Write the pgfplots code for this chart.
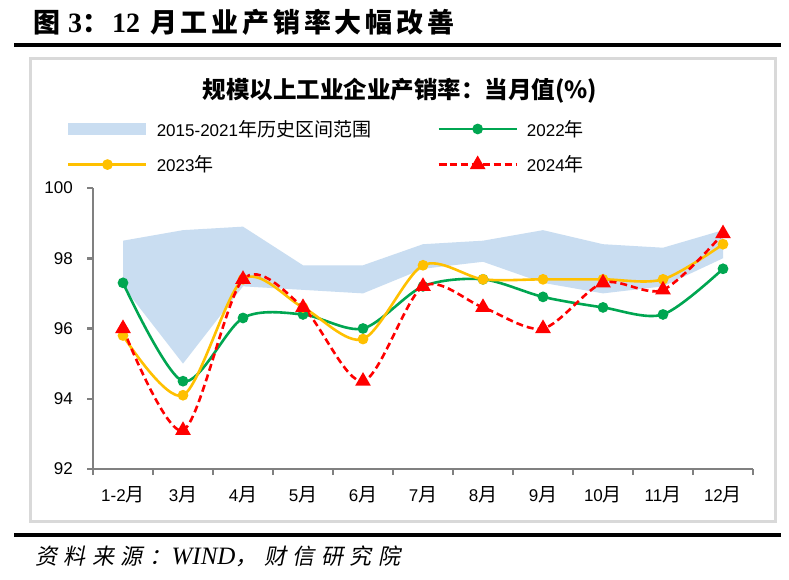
\documentclass[border=0pt]{standalone}
\usepackage{fontspec}
\usepackage{pgfplots}
\usepackage{pgfplotstable}
\pgfplotsset{compat=1.18}
\setmainfont{Liberation Sans}
\newfontfamily\cjk{Noto Sans CJK SC}[Scale=1.12]
\newfontfamily\titlecjkf{Noto Sans CJK SC}[LetterSpace=14]
\newfontfamily\srcf{Noto Sans CJK SC}[LetterSpace=30,FakeSlant=0.2]
\newfontfamily\serif{Liberation Serif}
\newcommand\zh[1]{{\cjk #1}}

\definecolor{band}{HTML}{C9DDF1}
\definecolor{g22}{HTML}{00A651}
\definecolor{y23}{HTML}{FFC000}
\definecolor{r24}{HTML}{FF0000}
\definecolor{axgray}{HTML}{808080}
\definecolor{boxgray}{HTML}{D9D9D9}

\pgfplotstableread{
x  g22  y23  r24
0  97.3 95.8 96.0
1  94.5 94.1 93.1
2  96.3 97.4 97.4
3  96.4 96.6 96.6
4  96.0 95.7 94.5
5  97.2 97.8 97.2
6  97.4 97.4 96.6
7  96.9 97.4 96.0
8  96.6 97.4 97.3
9  96.4 97.4 97.1
10 97.7 98.4 98.7
}\lines

\begin{document}
\begin{tikzpicture}[x=1pt,y=1pt]
\path[use as bounding box] (0,0) rectangle (789,579);
% page title
\node[anchor=base west,inner sep=0pt] at (33,546)
 {\fontsize{27}{27}\selectfont\titlecjkf\bfseries 图\hspace{8pt}{\serif\bfseries\fontsize{28}{28}\selectfont 3}：\hspace{3pt}{\serif\bfseries\fontsize{28}{28}\selectfont 12}\hspace{10pt}月工业产销率大幅改善};
\draw[black,line width=4pt] (14,534) -- (781,534);
% frame
\draw[boxgray,line width=3pt,fill=white] (30,520) rectangle (775,58);
% chart title
\node[inner sep=0pt] at (400,488)
 {\fontsize{21}{21}\selectfont\cjk\bfseries 规模以上工业企业产销率：当月值(\%)};
\begin{axis}[
  at={(93pt,110pt)}, anchor=south west,
  scale only axis, width=660pt, height=281pt,
  xmin=-0.5, xmax=10.5, ymin=92, ymax=100,
  axis x line*=bottom, axis y line*=left,
  axis line style={axgray,line width=2.5pt},
  xtick={-0.5,0.5,...,10.5}, xticklabels={},
  extra x ticks={0,1,...,10},
  extra x tick labels={{1-2\zh{月}},{3\zh{月}},{4\zh{月}},{5\zh{月}},{6\zh{月}},{7\zh{月}},{8\zh{月}},{9\zh{月}},{10\zh{月}},{11\zh{月}},{12\zh{月}}},
  extra x tick style={major tick length=0pt},
  ytick={92,94,...,100},
  tick align=outside,
  major tick length=6pt,
  every tick/.style={axgray,line width=2.5pt},
  /pgf/number format/assume math mode=true,
  tick label style={font=\fontsize{17}{17}\selectfont, inner sep=0pt},
  yticklabel style={xshift=-14pt},
  xticklabel style={yshift=-17pt},
  legend columns=2, legend cell align=left,
  legend style={
    at={(axis description cs:-0.0394,1.242)}, anchor=north west,
    draw=none, fill=none, inner sep=0pt,
    font=\fontsize{17}{17}\selectfont,
    row sep=18pt,
    nodes={inner sep=0pt},
    /tikz/every odd column/.append style={column sep=9pt},
    /tikz/every even column/.append style={column sep=66pt},
  },
  legend image code/.code={\draw[#1,mark repeat=2,mark phase=2] plot coordinates {(0pt,0pt)(39pt,0pt)(78pt,0pt)};},
  clip=false,
]
\addplot[fill=band, draw=none,
  legend image code/.code={\fill[band] (0pt,-6pt) rectangle (78pt,6pt);}]
 coordinates {(0,98.5)(1,98.8)(2,98.9)(3,97.8)(4,97.8)(5,98.4)(6,98.5)(7,98.8)(8,98.4)(9,98.3)(10,98.8)
              (10,98.0)(9,97.2)(8,97.0)(7,97.3)(6,97.9)(5,97.7)(4,97.0)(3,97.1)(2,97.2)(1,95.0)(0,97.2)} -- cycle;
\addlegendentry{2015-2021\zh{年历史区间范围}}
\addplot[g22, line width=2.6pt, smooth, tension=0.5, mark=*, mark size=4pt, mark options={solid}]
  table[x=x,y=g22]{\lines};
\addlegendentry{2022\zh{年}}
\addplot[y23, line width=2.6pt, smooth, tension=0.5, mark=*, mark size=4pt, mark options={solid}]
  table[x=x,y=y23]{\lines};
\addlegendentry{2023\zh{年}}
\addplot[r24, line width=2.6pt, smooth, tension=0.5, dash pattern=on 7pt off 4pt, mark=triangle*, mark size=6.5pt, mark options={solid}]
  table[x=x,y=r24]{\lines};
\addlegendentry{2024\zh{年}}
\end{axis}
% source
\draw[black,line width=4pt] (14,44) -- (781,44);
\node[anchor=base west,inner sep=0pt] at (35,15)
 {\fontsize{22}{22}\selectfont\srcf 资料来源：{\serif\itshape\fontsize{25}{25}\selectfont WIND}，财信研究院};
\end{tikzpicture}
\end{document}
